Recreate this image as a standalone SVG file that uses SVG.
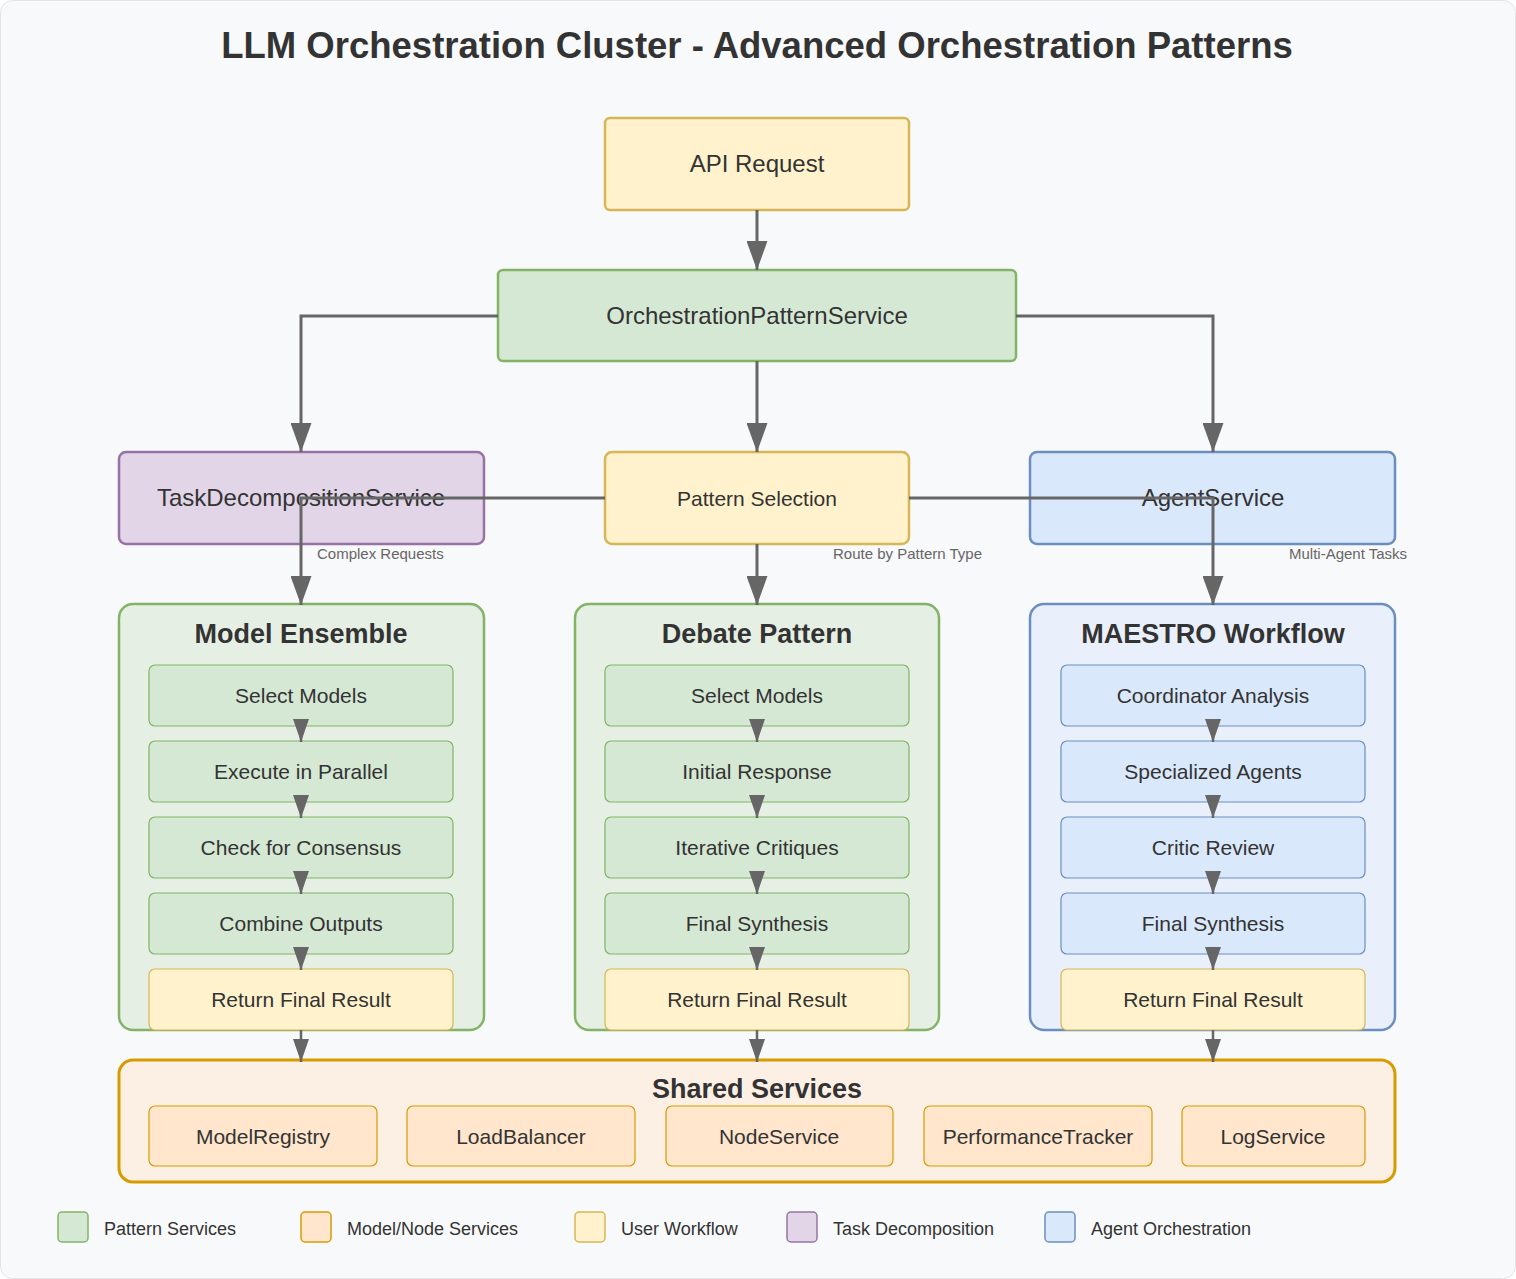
<svg xmlns="http://www.w3.org/2000/svg" width="1516" height="1279" viewBox="0 0 1516 1279">
<defs>
<style>
text{font-family:"Liberation Sans",Arial,Helvetica,sans-serif;fill:#333;text-anchor:middle}
.n{font-size:24px}
.m{font-size:21px}
.h{font-size:27px;font-weight:bold}
.lbl{font-size:15px;fill:#666;text-anchor:start}
.lg{font-size:18px;text-anchor:start}
.yel{fill:#fff2cc;stroke:#d6b656;stroke-width:2.5}
.grn{fill:#d5e8d4;stroke:#82b366;stroke-width:2.5}
.pur{fill:#e1d5e7;stroke:#9673a6;stroke-width:2.5}
.blu{fill:#dae8fc;stroke:#6c8ebf;stroke-width:2.5}
.cg{fill:#e6efe4;stroke:#82b366;stroke-width:2.5}
.cb{fill:#e9f0fb;stroke:#6c8ebf;stroke-width:2.5}
.co{fill:#fcf0e5;stroke:#d79b00;stroke-width:3}
.ig{fill:#d5e8d4;stroke:#82b366;stroke-width:1.2}
.ib{fill:#dae8fc;stroke:#6c8ebf;stroke-width:1.2}
.iy{fill:#fff2cc;stroke:#d6b656;stroke-width:1.2}
.io{fill:#ffe6cc;stroke:#d79b00;stroke-width:1.2}
.big{fill:none;stroke:#666;stroke-width:3;marker-end:url(#ab)}
.sm{fill:none;stroke:#666;stroke-width:2.5;marker-end:url(#as)}
</style>
<marker id="ab" markerUnits="userSpaceOnUse" markerWidth="29" markerHeight="21" refX="29" refY="10.5" orient="auto"><path d="M0,0 L29,10.5 L0,21 z" fill="#666"/></marker>
<marker id="as" markerUnits="userSpaceOnUse" markerWidth="23" markerHeight="16" refX="23" refY="8" orient="auto"><path d="M0,0 L23,8 L0,16 z" fill="#666"/></marker>
</defs>
<rect x="0" y="0" width="1516" height="1279" fill="#ffffff"/>
<rect x="0.5" y="0.5" width="1515" height="1278" rx="12" fill="#f8f9fa" stroke="#e2e4e6"/>
<text x="757" y="58" style="font-size:36.5px;font-weight:bold">LLM Orchestration Cluster - Advanced Orchestration Patterns</text>

<g id="api-request"><rect class="yel" x="605" y="118" width="304" height="92" rx="5"/><text class="n" x="757" y="172">API Request</text></g>
<g id="orchestration-pattern-service"><rect class="grn" x="498" y="270" width="518" height="91" rx="5"/><text class="n" x="757" y="324">OrchestrationPatternService</text></g>
<g id="task-decomposition-service"><rect class="pur" x="119" y="452" width="365" height="92" rx="7"/><text class="n" x="301" y="506">TaskDecompositionService</text></g>
<g id="pattern-selection"><rect class="yel" x="605" y="452" width="304" height="92" rx="7"/><text class="m" x="757" y="506">Pattern Selection</text></g>
<g id="agent-service"><rect class="blu" x="1030" y="452" width="365" height="92" rx="7"/><text class="n" x="1213" y="506">AgentService</text></g>

<g id="model-ensemble">
<rect class="cg" x="119" y="604" width="365" height="426" rx="14"/>
<text class="h" x="301" y="643">Model Ensemble</text>
<g id="me-select"><rect class="ig" x="149" y="665" width="304" height="61" rx="6"/><text class="m" x="301" y="703">Select Models</text></g>
<g id="me-exec"><rect class="ig" x="149" y="741" width="304" height="61" rx="6"/><text class="m" x="301" y="779">Execute in Parallel</text></g>
<g id="me-consensus"><rect class="ig" x="149" y="817" width="304" height="61" rx="6"/><text class="m" x="301" y="855">Check for Consensus</text></g>
<g id="me-combine"><rect class="ig" x="149" y="893" width="304" height="61" rx="6"/><text class="m" x="301" y="931">Combine Outputs</text></g>
<g id="me-return"><rect class="iy" x="149" y="969" width="304" height="61" rx="6"/><text class="m" x="301" y="1007">Return Final Result</text></g>
</g>

<g id="debate-pattern">
<rect class="cg" x="575" y="604" width="364" height="426" rx="14"/>
<text class="h" x="757" y="643">Debate Pattern</text>
<g id="dp-select"><rect class="ig" x="605" y="665" width="304" height="61" rx="6"/><text class="m" x="757" y="703">Select Models</text></g>
<g id="dp-initial"><rect class="ig" x="605" y="741" width="304" height="61" rx="6"/><text class="m" x="757" y="779">Initial Response</text></g>
<g id="dp-critiques"><rect class="ig" x="605" y="817" width="304" height="61" rx="6"/><text class="m" x="757" y="855">Iterative Critiques</text></g>
<g id="dp-synthesis"><rect class="ig" x="605" y="893" width="304" height="61" rx="6"/><text class="m" x="757" y="931">Final Synthesis</text></g>
<g id="dp-return"><rect class="iy" x="605" y="969" width="304" height="61" rx="6"/><text class="m" x="757" y="1007">Return Final Result</text></g>
</g>

<g id="maestro-workflow">
<rect class="cb" x="1030" y="604" width="365" height="426" rx="14"/>
<text class="h" x="1213" y="643">MAESTRO Workflow</text>
<g id="mw-coord"><rect class="ib" x="1061" y="665" width="304" height="61" rx="6"/><text class="m" x="1213" y="703">Coordinator Analysis</text></g>
<g id="mw-agents"><rect class="ib" x="1061" y="741" width="304" height="61" rx="6"/><text class="m" x="1213" y="779">Specialized Agents</text></g>
<g id="mw-critic"><rect class="ib" x="1061" y="817" width="304" height="61" rx="6"/><text class="m" x="1213" y="855">Critic Review</text></g>
<g id="mw-synthesis"><rect class="ib" x="1061" y="893" width="304" height="61" rx="6"/><text class="m" x="1213" y="931">Final Synthesis</text></g>
<g id="mw-return"><rect class="iy" x="1061" y="969" width="304" height="61" rx="6"/><text class="m" x="1213" y="1007">Return Final Result</text></g>
</g>

<g id="shared-services">
<rect class="co" x="119" y="1060" width="1276" height="122" rx="14"/>
<text class="h" x="757" y="1098">Shared Services</text>
<g id="ss-registry"><rect class="io" x="149" y="1106" width="228" height="60" rx="6"/><text class="m" x="263" y="1144">ModelRegistry</text></g>
<g id="ss-lb"><rect class="io" x="407" y="1106" width="228" height="60" rx="6"/><text class="m" x="521" y="1144">LoadBalancer</text></g>
<g id="ss-node"><rect class="io" x="666" y="1106" width="227" height="60" rx="6"/><text class="m" x="779" y="1144">NodeService</text></g>
<g id="ss-perf"><rect class="io" x="924" y="1106" width="228" height="60" rx="6"/><text class="m" x="1038" y="1144">PerformanceTracker</text></g>
<g id="ss-log"><rect class="io" x="1182" y="1106" width="183" height="60" rx="6"/><text class="m" x="1273" y="1144">LogService</text></g>
</g>

<g id="connectors">
<path class="big" d="M757,210 V270"/>
<path class="big" d="M498,316 H301 V452"/>
<path class="big" d="M757,361 V452"/>
<path class="big" d="M1016,316 H1213 V452"/>
<path class="big" d="M605,498 H301 V605"/>
<path class="big" d="M757,544 V605"/>
<path class="big" d="M909,498 H1213 V605"/>
<path class="sm" d="M301,719 V742"/>
<path class="sm" d="M301,795 V818"/>
<path class="sm" d="M301,871 V894"/>
<path class="sm" d="M301,947 V970"/>
<path class="sm" d="M757,719 V742"/>
<path class="sm" d="M757,795 V818"/>
<path class="sm" d="M757,871 V894"/>
<path class="sm" d="M757,947 V970"/>
<path class="sm" d="M1213,719 V742"/>
<path class="sm" d="M1213,795 V818"/>
<path class="sm" d="M1213,871 V894"/>
<path class="sm" d="M1213,947 V970"/>
<path class="sm" d="M301,1030 V1062"/>
<path class="sm" d="M757,1030 V1062"/>
<path class="sm" d="M1213,1030 V1062"/>
<text class="lbl" x="317" y="559">Complex Requests</text>
<text class="lbl" x="833" y="559">Route by Pattern Type</text>
<text class="lbl" x="1289" y="559">Multi-Agent Tasks</text>
</g>

<g id="legend">
<rect x="58" y="1212" width="30" height="30" rx="4" fill="#d5e8d4" stroke="#82b366" stroke-width="1.5"/><text class="lg" x="104" y="1235">Pattern Services</text>
<rect x="301" y="1212" width="30" height="30" rx="4" fill="#ffe6cc" stroke="#d79b00" stroke-width="1.5"/><text class="lg" x="347" y="1235">Model/Node Services</text>
<rect x="575" y="1212" width="30" height="30" rx="4" fill="#fff2cc" stroke="#d6b656" stroke-width="1.5"/><text class="lg" x="621" y="1235">User Workflow</text>
<rect x="787" y="1212" width="30" height="30" rx="4" fill="#e1d5e7" stroke="#9673a6" stroke-width="1.5"/><text class="lg" x="833" y="1235">Task Decomposition</text>
<rect x="1045" y="1212" width="30" height="30" rx="4" fill="#dae8fc" stroke="#6c8ebf" stroke-width="1.5"/><text class="lg" x="1091" y="1235">Agent Orchestration</text>
</g>
</svg>
